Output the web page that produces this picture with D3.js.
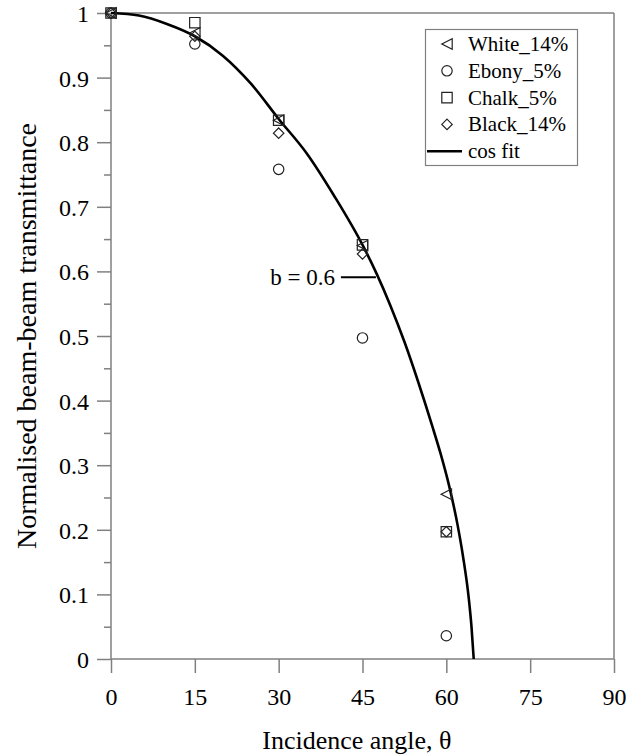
<!DOCTYPE html>
<html>
<head>
<meta charset="utf-8">
<script src="https://cdn.jsdelivr.net/npm/d3@7"></script>
<style>
  html, body { margin: 0; padding: 0; background: #fff; }
  svg { display: block; }
</style>
</head>
<body>
<svg id="chart" width="641" height="755"></svg>
<script>
// ---- data ----
const angles = [0, 15, 30, 45, 60];
const white14 = [1, 0.969, 0.834, 0.640, 0.255];
const ebony5  = [1, 0.952, 0.758, 0.497, 0.036];
const chalk5  = [1, 0.985, 0.834, 0.641, 0.197];
const black14 = [1, 0.964, 0.814, 0.627, 0.197];

const fitAngles = [0, 5, 10, 15, 20, 25, 30, 35, 40, 45, 47.5, 50, 52.5, 55, 57.5, 59, 60.5, 62, 63, 64, 64.5, 64.9];
const fitValues = [1, 0.996, 0.983, 0.964, 0.934, 0.891, 0.836, 0.783, 0.716, 0.641, 0.597, 0.547, 0.491, 0.428, 0.36, 0.317, 0.268, 0.208, 0.158, 0.095, 0.05, 0];

const xTicks = [0, 15, 30, 45, 60, 75, 90];
const yTicks = [0, 0.1, 0.2, 0.3, 0.4, 0.5, 0.6, 0.7, 0.8, 0.9, 1];
const yTickLabels = ["0", "0.1", "0.2", "0.3", "0.4", "0.5", "0.6", "0.7", "0.8", "0.9", "1"];
const yMinorTicks = [0.05, 0.15, 0.25, 0.35, 0.45, 0.55, 0.65, 0.75, 0.85, 0.95];

const seriesNames = ["White_14%", "Ebony_5%", "Chalk_5%", "Black_14%"];
const seriesSymbols = ["triangle", "circle", "square", "diamond"];
const fitName = "cos fit";
const annotation = { text: "b = 0.6", angle: 47.4, value: 0.591 };

// ---- layout ----
const FONT = "'Liberation Serif', 'Times New Roman', serif";
const svg = d3.select("#chart").style("font-family", FONT);
const x = d3.scaleLinear().domain([0, 90]).range([111, 614]);
const y = d3.scaleLinear().domain([0, 1]).range([659, 13]);
const axisColor = "#808080";

// frame (top and right)
svg.append("line").attr("x1", x(0)).attr("x2", x(90)).attr("y1", y(1)).attr("y2", y(1))
  .attr("stroke", axisColor).attr("stroke-width", 1.5);
svg.append("line").attr("x1", x(90)).attr("x2", x(90)).attr("y1", y(1)).attr("y2", y(0))
  .attr("stroke", axisColor).attr("stroke-width", 1.5);

// y minor ticks
const yMinor = svg.append("g").attr("transform", `translate(${x(0)},0)`)
  .call(d3.axisLeft(y).tickValues(yMinorTicks).tickSize(7).tickFormat(""));
yMinor.select(".domain").remove();
yMinor.selectAll("line").attr("stroke", axisColor).attr("stroke-width", 1.5);

// y axis
const yAxis = svg.append("g").attr("transform", `translate(${x(0)},0)`)
  .call(d3.axisLeft(y).tickValues(yTicks).tickSize(14).tickPadding(8)
    .tickFormat((d, i) => yTickLabels[i]));
yAxis.select(".domain").attr("stroke", axisColor).attr("stroke-width", 1.5).attr("d", `M0,${y(0)}V${y(1)}`);
yAxis.selectAll("line").attr("stroke", axisColor).attr("stroke-width", 1.5);
yAxis.selectAll("text").style("font-family", FONT).style("font-size", "24px").attr("dy", "0.35em");

// x axis
const xAxis = svg.append("g").attr("transform", `translate(0,${y(0)})`)
  .call(d3.axisBottom(x).tickValues(xTicks).tickSize(14).tickPadding(15));
xAxis.select(".domain").attr("stroke", axisColor).attr("stroke-width", 1.5).attr("d", `M${x(0)},0H${x(90)}`);
xAxis.selectAll("line").attr("stroke", axisColor).attr("stroke-width", 1.5);
xAxis.selectAll("text").style("font-family", FONT).style("font-size", "24px");

// axis titles
svg.append("text").attr("x", x(44)).attr("y", 749)
  .attr("text-anchor", "middle").style("font-family", FONT).style("font-size", "26px").text("Incidence angle, θ");
svg.append("text").attr("transform", `translate(36,${(y(0) + y(1)) / 2}) rotate(-90)`)
  .attr("text-anchor", "middle").style("font-family", FONT).style("font-size", "28px").text("Normalised beam-beam transmittance");

// symbols
function symbolPath(type, cx, cy) {
  const s = 5.2;
  if (type === "circle") return `M${cx + s},${cy}A${s},${s} 0 1,1 ${cx - s},${cy}A${s},${s} 0 1,1 ${cx + s},${cy}Z`;
  if (type === "square") return `M${cx - s},${cy - s}H${cx + s}V${cy + s}H${cx - s}Z`;
  if (type === "diamond") return `M${cx},${cy - s}L${cx + s},${cy}L${cx},${cy + s}L${cx - s},${cy}Z`;
  if (type === "triangle") return `M${cx - s},${cy}L${cx + s},${cy - s}L${cx + s},${cy + s}Z`;
}

const seriesValues = [white14, ebony5, chalk5, black14];

// fit curve
const line = d3.line().x(d => x(d[0])).y(d => y(d[1])).curve(d3.curveMonotoneX);
svg.append("path").datum(fitAngles.map((a, i) => [a, fitValues[i]]))
  .attr("d", line).attr("fill", "none").attr("stroke", "#000").attr("stroke-width", 2.6);

// markers
seriesValues.forEach((vals, si) => {
  svg.append("g").selectAll("path").data(angles.map((a, i) => [a, vals[i]])).join("path")
    .attr("d", d => symbolPath(seriesSymbols[si], x(d[0]), y(d[1])))
    .attr("fill", "none").attr("stroke", "#222").attr("stroke-width", 1.2);
});

// annotation
const ax = x(annotation.angle), ay = y(annotation.value);
svg.append("line").attr("x1", ax - 35).attr("x2", ax).attr("y1", ay).attr("y2", ay)
  .attr("stroke", "#000").attr("stroke-width", 2);
svg.append("text").attr("x", ax - 41).attr("y", ay + 8).attr("text-anchor", "end")
  .style("font-family", FONT).style("font-size", "23px").text(annotation.text);

// legend
const lg = svg.append("g");
lg.append("rect").attr("x", 425.5).attr("y", 29.5).attr("width", 152).attr("height", 136)
  .attr("fill", "#fff").attr("stroke", axisColor).attr("stroke-width", 1.2);
const rowY = i => 44 + i * 26.8;
seriesNames.forEach((n, i) => {
  lg.append("path").attr("d", symbolPath(seriesSymbols[i], 447, rowY(i)))
    .attr("fill", "none").attr("stroke", "#222").attr("stroke-width", 1.2);
  lg.append("text").attr("x", 468).attr("y", rowY(i) + 7).style("font-family", FONT).style("font-size", "21px").text(n);
});
lg.append("line").attr("x1", 427).attr("x2", 462).attr("y1", rowY(4)).attr("y2", rowY(4))
  .attr("stroke", "#000").attr("stroke-width", 2.6);
lg.append("text").attr("x", 468).attr("y", rowY(4) + 7).style("font-family", FONT).style("font-size", "21px").text(fitName);
</script>
</body>
</html>
